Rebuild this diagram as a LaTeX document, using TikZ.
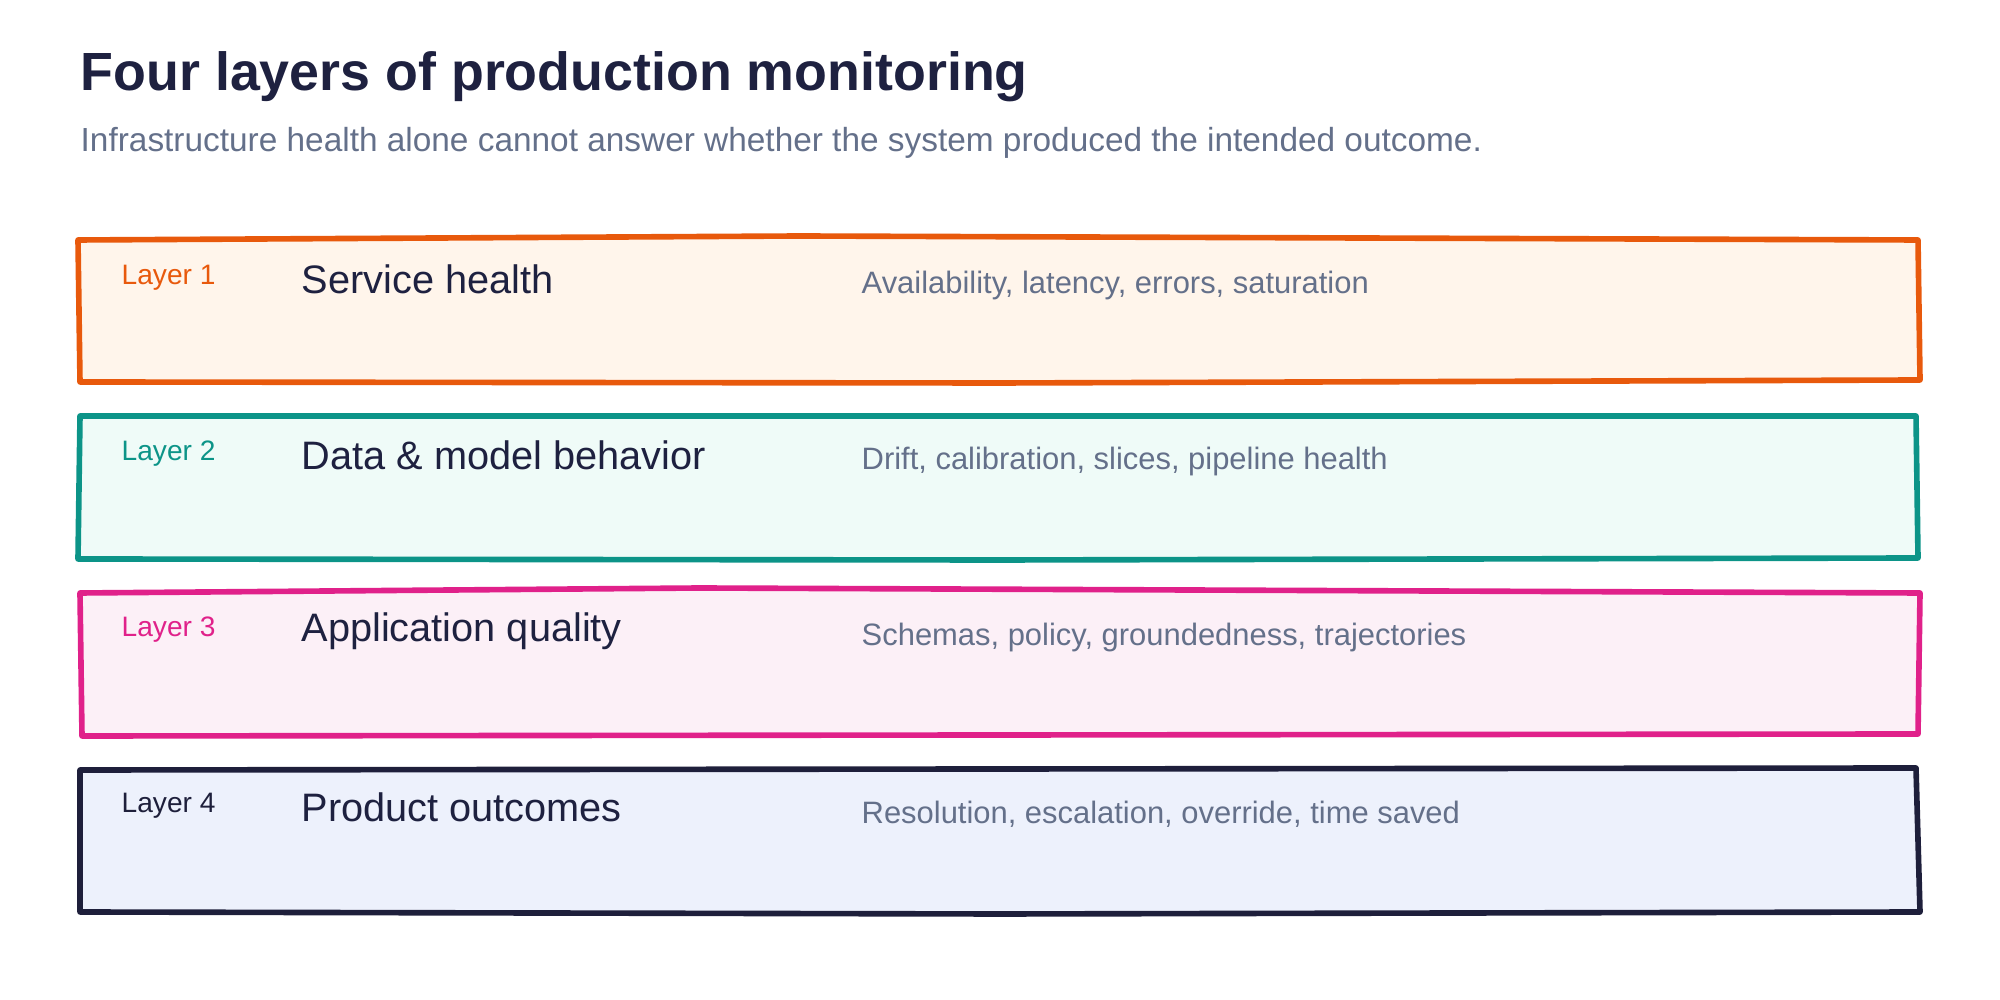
\documentclass[tikz,border=0pt]{standalone}
\usepackage{fontspec}
\setmainfont{Liberation Sans}
\usepackage{tikz}
\definecolor{ink}{HTML}{1E2140}
\definecolor{muted}{HTML}{64708A}
\definecolor{orangeL}{HTML}{E8590C}
\definecolor{orangeF}{HTML}{FFF5EB}
\definecolor{tealL}{HTML}{0C9488}
\definecolor{tealF}{HTML}{EFFBF8}
\definecolor{pinkL}{HTML}{E0218A}
\definecolor{pinkF}{HTML}{FCF0F7}
\definecolor{navyL}{HTML}{1E1F3B}
\definecolor{navyF}{HTML}{EDF1FC}
\tikzset{
    layerbox/.style={line width=1.6pt, line join=round},
    tag/.style={anchor=west, inner sep=0pt, font=\fontsize{8}{9}\selectfont},
    head/.style={anchor=west, inner sep=0pt, text=ink, font=\fontsize{11.3}{13}\selectfont},
    desc/.style={anchor=west, inner sep=0pt, text=muted, font=\fontsize{8.8}{10}\selectfont},
}
\begin{document}
\begin{tikzpicture}
    \useasboundingbox (0,0) rectangle (20,-10);

    \node[anchor=west, inner sep=0pt, text=ink, font=\bfseries\fontsize{15.3}{18}\selectfont] (title) at (0.80,-0.77) {Four layers of production monitoring};
    \node[anchor=west, inner sep=0pt, text=muted, font=\fontsize{9.5}{11}\selectfont] (subtitle) at (0.80,-1.43) {Infrastructure health alone cannot answer whether the system produced the intended outcome.};

    % layer 1
    \filldraw[layerbox, draw=orangeL, fill=orangeF]
        (0.78,-2.40) -- (8.0,-2.36) -- (19.18,-2.40) -- (19.20,-3.80) -- (10.0,-3.83) -- (0.80,-3.82) -- cycle;
    \node[tag, text=orangeL] (tag1) at (1.21,-2.78) {Layer 1};
    \node[head] (head1) at (3.01,-2.79) {Service health};
    \node[desc] (desc1) at (8.61,-2.86) {Availability, latency, errors, saturation};

    % layer 2
    \filldraw[layerbox, draw=tealL, fill=tealF]
        (0.80,-4.16) -- (19.16,-4.16) -- (19.18,-5.58) -- (10.0,-5.60) -- (0.78,-5.59) -- cycle;
    \node[tag, text=tealL] (tag2) at (1.21,-4.54) {Layer 2};
    \node[head] (head2) at (3.01,-4.55) {Data \& model behavior};
    \node[desc] (desc2) at (8.61,-4.62) {Drift, calibration, slices, pipeline health};

    % layer 3
    \filldraw[layerbox, draw=pinkL, fill=pinkF]
        (0.80,-5.93) -- (7.0,-5.88) -- (19.20,-5.93) -- (19.18,-7.34) -- (0.82,-7.36) -- cycle;
    \node[tag, text=pinkL] (tag3) at (1.21,-6.30) {Layer 3};
    \node[head] (head3) at (3.01,-6.31) {Application quality};
    \node[desc] (desc3) at (8.61,-6.38) {Schemas, policy, groundedness, trajectories};

    % layer 4
    \filldraw[layerbox, draw=navyL, fill=navyF]
        (0.80,-7.70) -- (19.16,-7.68) -- (19.20,-9.12) -- (10.0,-9.14) -- (0.80,-9.12) -- cycle;
    \node[tag, text=navyL] (tag4) at (1.21,-8.06) {Layer 4};
    \node[head] (head4) at (3.01,-8.07) {Product outcomes};
    \node[desc] (desc4) at (8.61,-8.14) {Resolution, escalation, override, time saved};
\end{tikzpicture}
\end{document}
